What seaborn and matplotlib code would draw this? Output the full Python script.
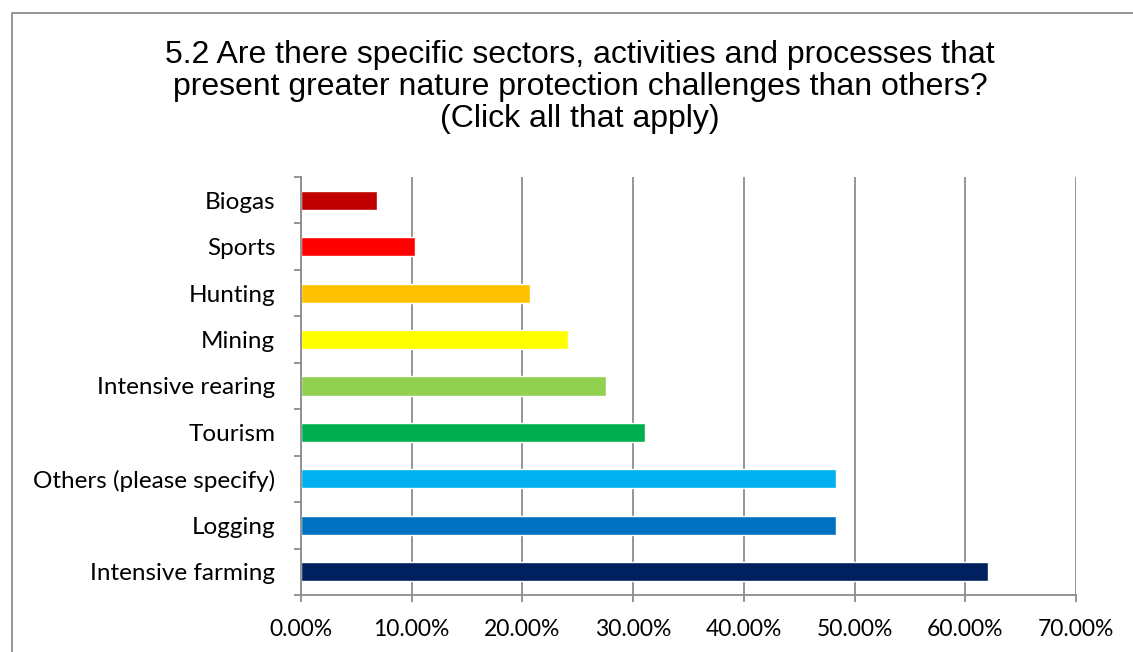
import matplotlib
matplotlib.use("Agg")
import matplotlib.pyplot as plt
import seaborn as sns
import pandas as pd
from matplotlib.ticker import FuncFormatter, MultipleLocator
from matplotlib.patches import Rectangle

# Survey responses: share of respondents selecting each sector
categories = ["Biogas", "Sports", "Hunting", "Mining", "Intensive rearing",
              "Tourism", "Others (please specify)", "Logging", "Intensive farming"]
shares = [6.90, 10.34, 20.69, 24.14, 27.59, 31.03, 48.28, 48.28, 62.07]
colors = ["#C00000", "#FF0000", "#FFC000", "#FFFF00", "#92D050",
          "#00B050", "#00B0F0", "#0070C0", "#002060"]

title = ("5.2 Are there specific sectors, activities and processes that\n"
         "present greater nature protection challenges than others?\n"
         "(Click all that apply)")

df = pd.DataFrame({"category": categories, "share": shares})

sns.set_theme(style="white")
plt.rcParams["font.family"] = ["Lato", "DejaVu Sans"]
plt.rcParams["text.color"] = "#000000"

fig = plt.figure(figsize=(11.33, 6.52), dpi=100)
ax = fig.add_axes([301 / 1133, 1 - 595 / 652, (1076 - 301) / 1133, (595 - 177) / 652])

sns.barplot(data=df, x="share", y="category", hue="category", palette=colors,
            legend=False, width=0.41, saturation=1, ax=ax, orient="h")

ax.set_xlim(0, 70)
ax.set_ylim(len(categories) - 0.5, -0.5)
ax.xaxis.set_major_locator(MultipleLocator(10))
ax.xaxis.set_major_formatter(FuncFormatter(lambda v, p: f"{v:.2f}%"))
ax.set_xlabel("")
ax.set_ylabel("")

# vertical gridlines only
ax.grid(axis="x", color="#8C8C8C", linewidth=1.3)
ax.grid(axis="y", visible=False)
ax.set_axisbelow(True)

for side in ["top", "right"]:
    ax.spines[side].set_visible(False)
for side in ["left", "bottom"]:
    ax.spines[side].set_color("#8C8C8C")
    ax.spines[side].set_linewidth(1.3)

# y ticks sit between categories
ax.set_yticks(range(len(categories)))
ax.set_yticks([i + 0.5 for i in range(-1, len(categories))], minor=True)
ax.tick_params(axis="y", which="major", length=0, pad=18.5, labelsize=17.5, labelcolor="#000000")
ax.tick_params(axis="y", which="minor", left=True, length=5, width=1.3, color="#8C8C8C")
ax.tick_params(axis="x", which="major", bottom=True, length=5, width=1.3, color="#8C8C8C",
               pad=12.5, labelsize=16.5, labelcolor="#000000")

fig.text(580 / 1133, 1 - 87 / 652, title, ha="center", va="center", color="#000000",
         fontsize=23, family=["Liberation Sans", "DejaVu Sans"], linespacing=1.07)

# chart area frame (open on right and bottom)
frame = Rectangle((12 / 1133, -0.1), 1.2, 1 - 13 / 652 + 0.1, transform=fig.transFigure,
                  fill=False, edgecolor="#8C8C8C", linewidth=1.3)
fig.patches.append(frame)

fig.savefig("out.png", dpi=100)
